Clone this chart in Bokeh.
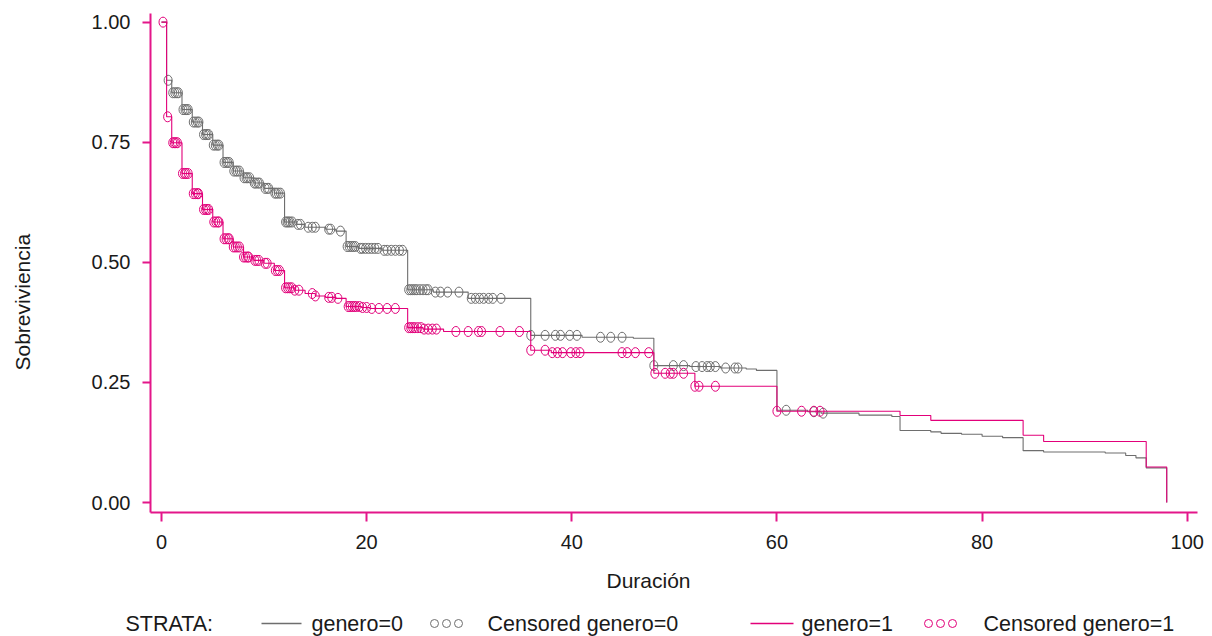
import numpy as np
from bokeh.plotting import figure
from bokeh.models import Range1d, FixedTicker, NumeralTickFormatter
from bokeh.layouts import column, row
from bokeh.embed import file_html
from bokeh.resources import INLINE
from bokeh.core.properties import value

# ---------------- data ----------------
g0_times = [0, 0.5, 1, 2, 3, 4, 5, 6, 7, 8, 9, 10, 11,
            12, 13.2, 14, 16, 17, 18, 19.2, 21.5,
            24, 26.5, 29.9, 36, 41, 46,
            48, 51.5, 54.5, 57, 58,
            60, 63, 64.3, 68, 71.2,
            72, 75, 76, 78, 80, 82,
            84, 86, 92, 94, 95,
            96, 98]
g0_surv = [1.0, 0.879, 0.853, 0.818, 0.792, 0.766, 0.744, 0.708, 0.690, 0.676, 0.665, 0.654, 0.644,
           0.584, 0.579, 0.573, 0.569, 0.565, 0.533, 0.529, 0.525,
           0.443, 0.438, 0.425, 0.348, 0.344, 0.342,
           0.285, 0.283, 0.280, 0.278, 0.275,
           0.192, 0.189, 0.186, 0.182, 0.179,
           0.150, 0.147, 0.144, 0.142, 0.138, 0.135,
           0.108, 0.105, 0.103, 0.098, 0.093,
           0.072, 0.0]
g0_censored = [0.65, 1.1, 1.3, 1.5, 1.65, 2.1, 2.3, 2.45, 2.6, 3.1, 3.3, 3.5, 3.65,
               4.1, 4.3, 4.45, 4.6, 5.05, 5.25, 5.45, 5.6, 6.1, 6.3, 6.45, 6.6,
               7.05, 7.25, 7.4, 7.6, 8.05, 8.25, 8.4, 8.6, 9.05, 9.2, 9.4, 9.55,
               10.1, 10.3, 10.45, 11.05, 11.2, 11.4, 11.6,
               12.1, 12.25, 12.4, 12.55, 12.75, 13.3, 13.55, 14.3, 14.7, 15.0,
               16.3, 16.5, 17.45, 18.1, 18.3, 18.5, 18.7, 18.9,
               19.4, 19.6, 19.9, 20.2, 20.5, 20.8, 21.1, 21.7, 22.0, 22.4, 22.8, 23.2, 23.5,
               24.1, 24.3, 24.5, 24.7, 24.9, 25.2, 25.5, 25.8, 26.0,
               26.7, 27.2, 27.9, 29.0, 30.2, 30.6, 31.0, 31.4, 31.9, 32.3, 33.1,
               36.0, 37.4, 38.4, 38.9, 39.8, 40.5, 42.8, 43.8, 44.9,
               48.0, 49.9, 50.9, 52.1, 52.7, 53.2, 53.5, 54.0, 55.0, 55.9, 56.2,
               60.9, 63.6, 64.5]

g1_times = [0, 0.5, 1, 2, 3, 4, 5, 6, 7, 8, 9, 10, 11,
            12, 13, 14, 15, 16, 17,
            18, 19.5, 20.3,
            24, 25.5, 27.5,
            36, 38,
            48, 52,
            60, 72, 75,
            84, 86, 96, 98]
g1_surv = [1.0, 0.803, 0.749, 0.685, 0.643, 0.610, 0.584, 0.549, 0.532, 0.511, 0.504, 0.498, 0.483,
           0.447, 0.442, 0.435, 0.430, 0.427, 0.425,
           0.408, 0.406, 0.404,
           0.364, 0.361, 0.356,
           0.317, 0.312,
           0.269, 0.242,
           0.190, 0.181, 0.171,
           0.140, 0.127, 0.074, 0.0]
g1_censored = [0.15, 0.6, 1.1, 1.25, 1.4, 1.55, 2.05, 2.25, 2.4, 2.6, 3.1, 3.3, 3.5, 3.6,
               4.1, 4.3, 4.45, 4.6, 5.1, 5.3, 5.5, 5.6, 6.1, 6.3, 6.5, 6.6,
               7.0, 7.2, 7.4, 7.6, 8.0, 8.2, 8.4, 8.5, 9.1, 9.3, 9.5, 10.1, 10.3,
               11.1, 11.3, 11.5, 12.1, 12.3, 12.5, 12.7, 13.0, 13.4, 14.7, 15.0,
               16.3, 16.6, 17.2, 18.2, 18.4, 18.6, 18.8, 19.0, 19.3, 19.6, 20.0,
               20.5, 21.2, 22.0, 22.8,
               24.1, 24.3, 24.5, 24.7, 25.0, 25.3, 25.6, 26.0, 26.4, 26.8,
               28.7, 29.9, 30.9, 31.2, 33.0, 34.9,
               36.0, 37.4, 38.1, 38.6, 39.1, 39.9, 40.4, 40.8, 44.9, 45.4, 46.2, 47.5,
               48.1, 49.1, 49.6, 49.9, 50.9, 52.0, 52.4, 54.0,
               60.0, 62.4, 63.6, 64.2]

x_ticks = [0, 20, 40, 60, 80, 100]
y_ticks = [0.0, 0.25, 0.50, 0.75, 1.00]
x_title = "Duración"
y_title = "Sobreviviencia"
legend_title = "STRATA:"
strata_labels = ["genero=0", "genero=1"]
censored_labels = ["Censored genero=0", "Censored genero=1"]

# ---------------- styles ----------------
GRAY = "#6e6e6e"
MAG = "#e2007a"
AXIS = "#e3168a"
TXT = "#1a1a1a"
FONT = "Liberation Sans"

TOP_H = 560      # height of the upper row (titles + plot)
LEFT_W = 60      # width of the strip holding the y title
TOTAL_W = 1210


def surv_at(times, surv, t):
    idx = np.searchsorted(np.asarray(times), np.asarray(t), side="right") - 1
    return np.asarray(surv)[idx]


def blank(width, height):
    f = figure(width=width, height=height, output_backend="svg", toolbar_location=None,
               x_range=Range1d(0, width), y_range=Range1d(0, height),
               x_axis_type=None, y_axis_type=None, min_border=0)
    f.grid.visible = False
    f.outline_line_color = None
    return f


# ---------------- main plot ----------------
p = figure(width=TOTAL_W - LEFT_W, height=TOP_H, output_backend="svg", toolbar_location=None,
           x_range=Range1d(-1.07, 101.0), y_range=Range1d(-0.0208, 1.018),
           min_border_left=90, min_border_right=13, min_border_top=13, min_border_bottom=48)
p.grid.visible = False
p.outline_line_color = None

for ax in (p.xaxis[0], p.yaxis[0]):
    ax.axis_line_color = AXIS
    ax.axis_line_width = 2
    ax.major_tick_line_color = AXIS
    ax.major_tick_line_width = 2
    ax.major_tick_in = 0
    ax.minor_tick_line_color = None
    ax.major_label_text_font = FONT
    ax.major_label_text_font_size = "20px"
    ax.major_label_text_color = TXT

p.xaxis.ticker = FixedTicker(ticks=x_ticks)
p.yaxis.ticker = FixedTicker(ticks=y_ticks)
p.yaxis.formatter = NumeralTickFormatter(format="0.00")
p.xaxis.major_tick_out = 9
p.yaxis.major_tick_out = 8
p.xaxis.major_label_standoff = 13
p.yaxis.major_label_standoff = 12

p.step(x=g0_times, y=g0_surv, mode="after", line_color=GRAY, line_width=1.1)
p.ellipse(x=g0_censored, y=surv_at(g0_times, g0_surv, g0_censored), width=8, height=10,
          width_units="screen", height_units="screen", fill_color=None,
          line_color=GRAY, line_width=1)
p.step(x=g1_times, y=g1_surv, mode="after", line_color=MAG, line_width=1.1)
p.ellipse(x=g1_censored, y=surv_at(g1_times, g1_surv, g1_censored), width=8, height=10,
          width_units="screen", height_units="screen", fill_color=None,
          line_color=MAG, line_width=1)

# ---------------- y title strip ----------------
yf = blank(LEFT_W, TOP_H)
yf.text(x=[22], y=[TOP_H - 324], text=[y_title], angle=np.pi / 2,
        text_font=value(FONT), text_font_size="21px", text_color=TXT,
        text_align="center", text_baseline="middle")

# ---------------- x title + legend strip ----------------
BOT_H = 636 - TOP_H
bf = blank(TOTAL_W, BOT_H)
bf.text(x=[648], y=[636 - 580], text=[x_title], text_font=value(FONT), text_font_size="21px",
        text_color=TXT, text_align="center", text_baseline="middle")

LY = 636 - 623
LFS = "21.5px"
bf.text(x=[125], y=[LY], text=[legend_title], text_font=value(FONT), text_font_size=LFS,
        text_color=TXT, text_baseline="middle", text_align="left")
bf.segment(x0=[261], y0=[LY], x1=[301], y1=[LY], line_color=GRAY, line_width=1.5)
bf.text(x=[311], y=[LY], text=[strata_labels[0]], text_font=value(FONT), text_font_size=LFS,
        text_color=TXT, text_baseline="middle", text_align="left")
bf.scatter(x=[434, 446, 458], y=[LY] * 3, marker="circle", size=8, fill_color=None,
           line_color=GRAY, line_width=1)
bf.text(x=[487], y=[LY], text=[censored_labels[0]], text_font=value(FONT), text_font_size=LFS,
        text_color=TXT, text_baseline="middle", text_align="left")
bf.segment(x0=[750], y0=[LY], x1=[793], y1=[LY], line_color=MAG, line_width=1.5)
bf.text(x=[801], y=[LY], text=[strata_labels[1]], text_font=value(FONT), text_font_size=LFS,
        text_color=TXT, text_baseline="middle", text_align="left")
bf.scatter(x=[928, 940, 952], y=[LY] * 3, marker="circle", size=8, fill_color=None,
           line_color=MAG, line_width=1)
bf.text(x=[983], y=[LY], text=[censored_labels[1]], text_font=value(FONT), text_font_size=LFS,
        text_color=TXT, text_baseline="middle", text_align="left")

layout = column(row(yf, p, spacing=0), bf, spacing=0)
open("out.html", "w").write(file_html(layout, INLINE))
